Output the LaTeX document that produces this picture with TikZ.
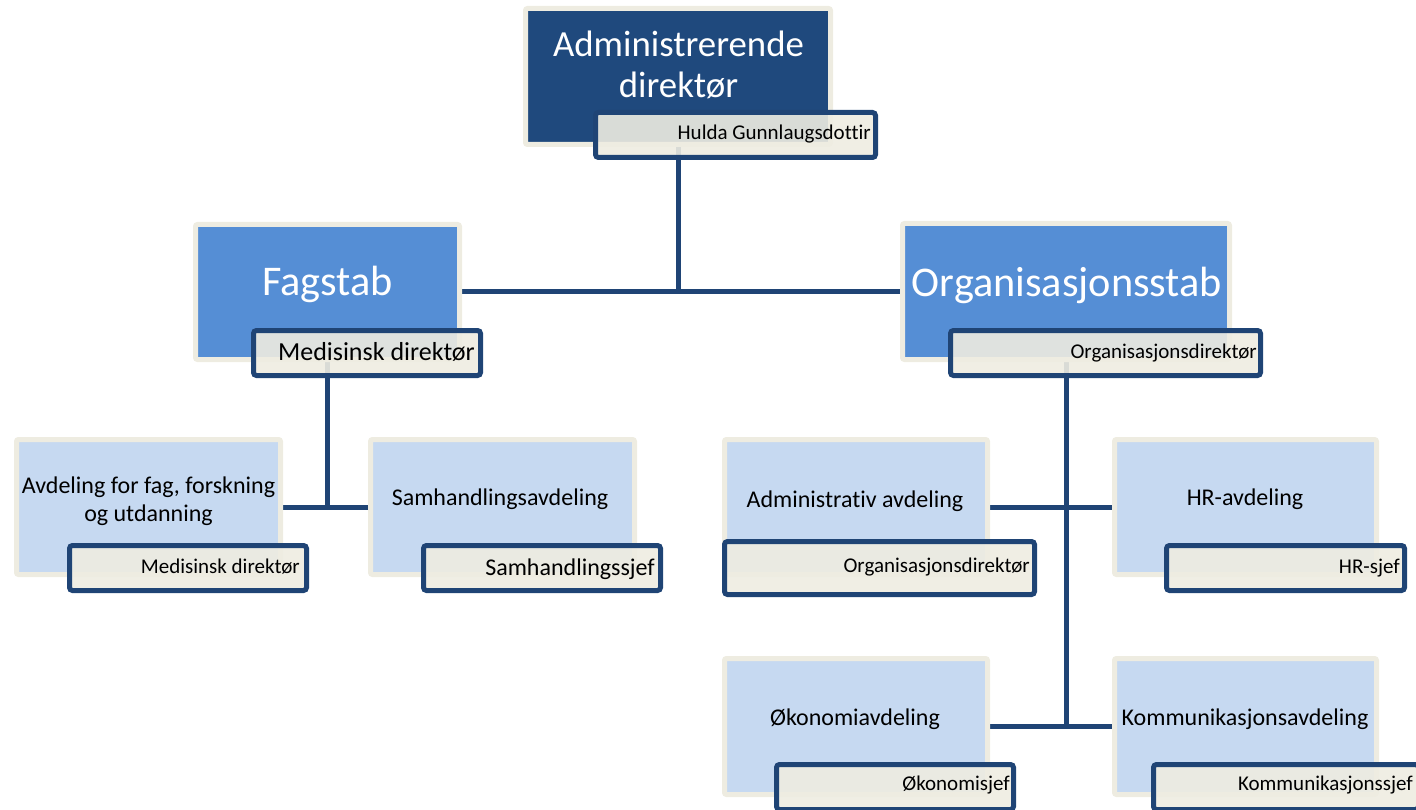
\documentclass[tikz,border=0pt]{standalone}
\usepackage{fontspec}
\setmainfont{Carlito}[Ligatures=NoCommon]
\usetikzlibrary{backgrounds}
\definecolor{navy}{RGB}{31,68,117}
\definecolor{dkblue}{RGB}{31,73,125}
\definecolor{midblue}{RGB}{85,142,213}
\definecolor{ltblue}{RGB}{198,217,241}
\definecolor{cream}{RGB}{238,236,225}
\begin{document}
\begin{tikzpicture}[x=1pt,y=-1pt,
  box/.style={draw=cream, line width=5pt, rounded corners=2pt, inner sep=0pt},
  topbox/.style={box, fill=dkblue},
  midbox/.style={box, fill=midblue},
  lowbox/.style={box, fill=ltblue},
  namebox/.style={draw=navy, line width=5pt, fill=cream, fill opacity=0.9, rounded corners=3pt, inner sep=0pt},
  conn/.style={draw=navy, line width=5pt},
  txt/.style={inner sep=0pt, anchor=base},
  nametxt/.style={inner sep=0pt, anchor=base east, text=black},
  bigw/.style={txt, text=white, font=\fontsize{42.3}{50}\selectfont},
  topw/.style={txt, text=white, align=center, font=\fontsize{36.8}{41}\selectfont},
  lowt/.style={txt, text=black, align=center, font=\fontsize{24}{28}\selectfont}
]
\useasboundingbox (0,0) rectangle (1416,810);

% main boxes
\node[topbox, minimum width=305, minimum height=136] (adm) at (678,76.5) {};
\node[midbox, minimum width=264, minimum height=135] (fag) at (327.5,292) {};
\node[midbox, minimum width=327, minimum height=136] (org) at (1066,291.5) {};
\node[lowbox, minimum width=264, minimum height=135] (avd) at (148.5,507) {};
\node[lowbox, minimum width=264, minimum height=135] (sam) at (502.5,507) {};
\node[lowbox, minimum width=263, minimum height=135] (admavd) at (856,507) {};
\node[lowbox, minimum width=262, minimum height=135] (hr) at (1245.5,507) {};
\node[lowbox, minimum width=263, minimum height=136] (oko) at (856,726.5) {};
\node[lowbox, minimum width=262, minimum height=136] (kom) at (1245.5,726.5) {};

% connectors
\begin{scope}[on background layer]
\draw[conn] (adm.south) -- (adm.south |- fag.east);
\draw[conn] (fag.east) -- (fag.east -| org.west);
\draw[conn] (fag.south) -- (fag.south |- avd.east);
\draw[conn] (avd.east) -- (sam.west);
\draw[conn] (org.south) -- (org.south |- oko.east);
\draw[conn] (admavd.east) -- (hr.west);
\draw[conn] (oko.east) -- (kom.west);
\end{scope}

% name boxes
\node[namebox, minimum width=280, minimum height=45] (nbadm) at (735.5,135) {};
\node[namebox, minimum width=227, minimum height=45] (nbfag) at (367,353) {};
\node[namebox, minimum width=310, minimum height=45] (nborg) at (1105.5,353) {};
\node[namebox, minimum width=237, minimum height=45] (nbavd) at (188,568) {};
\node[namebox, minimum width=237, minimum height=45] (nbsam) at (542,568) {};
\node[namebox, minimum width=310, minimum height=53] (nbadmavd) at (879.5,568) {};
\node[namebox, minimum width=238, minimum height=45] (nbhr) at (1285.5,568) {};
\node[namebox, minimum width=237, minimum height=45] (nboko) at (895,787) {};
\node[namebox, minimum width=265, minimum height=45] (nbkom) at (1286,787) {};

% main texts (base = last line's baseline)
\node[topw] (tadm) at (678.5,98) {Administrerende\\direktør};
\node[bigw] (tfag) at (327.5,295) {Fagstab};
\node[bigw] (torg) at (1067,297) {Organisasjonsstab};
\node[lowt] (tavd) at (148.5,521) {Avdeling for fag, forskning\\og utdanning};
\node[lowt] (tsam) at (500,505) {Samhandlingsavdeling};
\node[lowt] (tadmavd) at (855,507) {Administrativ avdeling};
\node[lowt] (thr) at (1245,505) {HR-avdeling};
\node[lowt] (toko) at (855,725) {Økonomiavdeling};
\node[lowt] (tkom) at (1245,725) {Kommunikasjonsavdeling};

% name texts
\node[nametxt, font=\fontsize{21}{25}\selectfont] (tnbadm) at (871,140) {Hulda Gunnlaugsdottir};
\node[nametxt, font=\fontsize{26}{31}\selectfont] (tnbfag) at (475,360) {Medisinsk direktør};
\node[nametxt, font=\fontsize{21}{25}\selectfont] (tnborg) at (1257,358) {Organisasjonsdirektør};
\node[nametxt, font=\fontsize{21}{25}\selectfont] (tnbavd) at (300,573) {Medisinsk direktør};
\node[nametxt, font=\fontsize{24}{28}\selectfont] (tnbsam) at (655,575) {Samhandlingssjef};
\node[nametxt, font=\fontsize{21}{25}\selectfont] (tnbadmavd) at (1030,572) {Organisasjonsdirektør};
\node[nametxt, font=\fontsize{21}{25}\selectfont] (tnbhr) at (1400,573) {HR-sjef};
\node[nametxt, font=\fontsize{21}{25}\selectfont] (tnboko) at (1010,790) {Økonomisjef};
\node[nametxt, font=\fontsize{21}{25}\selectfont] (tnbkom) at (1413,790) {Kommunikasjonssjef};
\end{tikzpicture}
\end{document}
